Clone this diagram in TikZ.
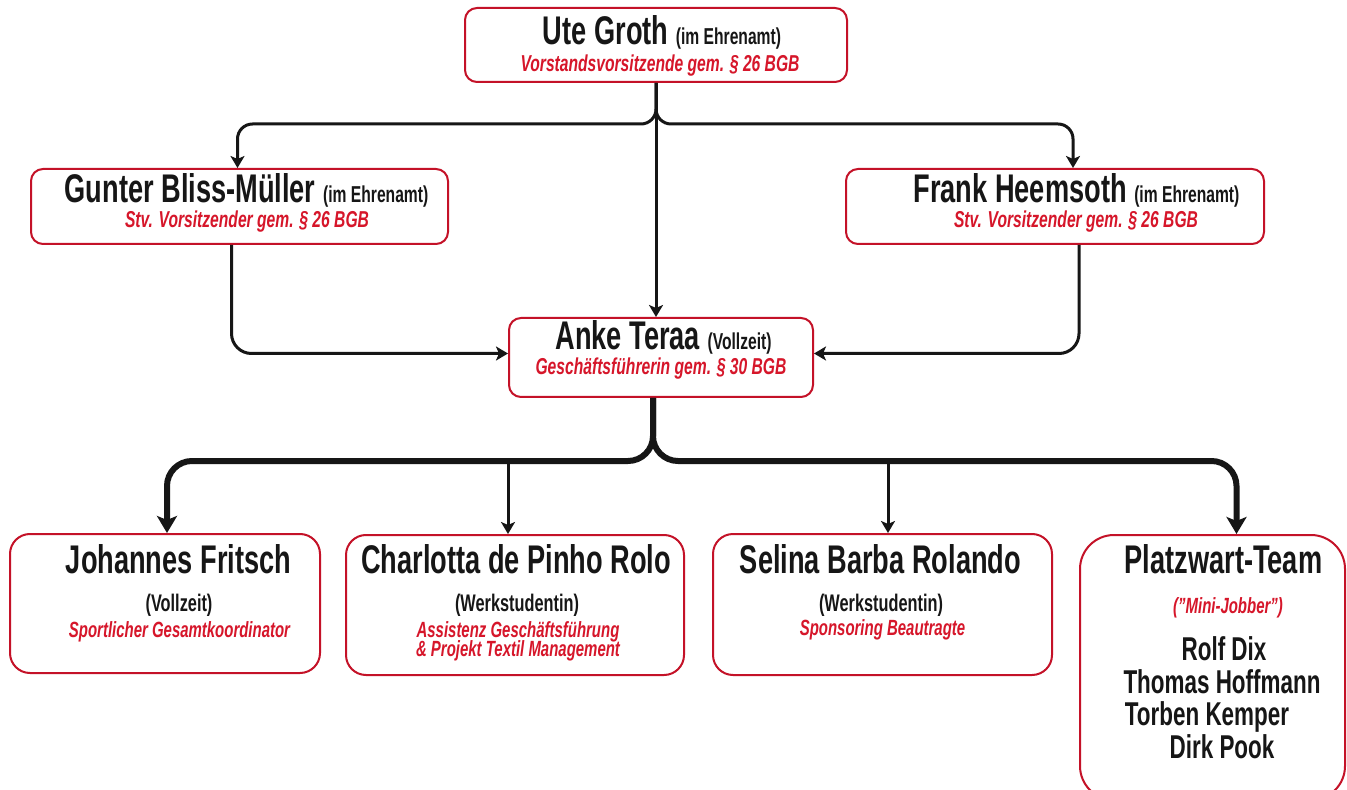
\documentclass[tikz,border=0pt]{standalone}
\usepackage{fontspec}
\setmainfont{Liberation Sans}[FakeStretch=0.68]
\usetikzlibrary{arrows.meta}

\definecolor{boxred}{RGB}{196,18,40}
\definecolor{rolered}{RGB}{214,22,42}
\definecolor{ink}{RGB}{22,22,22}

\newcommand{\aside}[1]{{\fontsize{11.5}{13}\selectfont #1}}

\tikzset{
  box/.style={draw=boxred, line width=1pt, rounded corners=6pt, fill=white, inner sep=0pt},
  bigbox/.style={box, rounded corners=10pt},
  person/.style={font=\fontsize{20}{22}\selectfont\bfseries, text=ink, anchor=base, inner sep=0pt},
  member/.style={font=\fontsize{16.5}{18}\selectfont\bfseries, text=ink, anchor=base, inner sep=0pt},
  status/.style={font=\fontsize{12}{14}\selectfont\bfseries, text=ink, anchor=base, inner sep=0pt},
  role/.style={font=\fontsize{11.5}{13}\selectfont\bfseries\itshape, text=rolered, anchor=base, inner sep=0pt},
  subrole/.style={role, font=\fontsize{11}{12}\selectfont\bfseries\itshape},
  conn/.style={draw=ink, line width=1.5pt, -{Stealth[length=6pt, width=7pt, inset=1.5pt]}},
  mainconn/.style={draw=ink, line width=3pt, -{Stealth[length=8.5pt, width=10pt, inset=2pt]}}
}

\begin{document}
\begin{tikzpicture}[x=0.5pt, y=-0.5pt]
  \useasboundingbox (0,0) rectangle (1347,790);
  \fill[white] (0,0) rectangle (1347,790);

  % Vorstand
  \node[box, minimum width=191pt, minimum height=37pt] (ute) at (656,45) {};
  \node[person] (ute-name) at (662,45) {Ute Groth \aside{(im Ehrenamt)}};
  \node[role] (ute-role) at (660,72) {Vorstandsvorsitzende gem. § 26 BGB};

  \node[box, minimum width=208.5pt, minimum height=37.5pt] (gunter) at (239.5,206.5) {};
  \node[person] (gunter-name) at (246.5,203) {Gunter Bliss-Müller \aside{(im Ehrenamt)}};
  \node[role] (gunter-role) at (247,228) {Stv. Vorsitzender gem. § 26 BGB};

  \node[box, minimum width=209pt, minimum height=37.5pt] (frank) at (1055,206.5) {};
  \node[person] (frank-name) at (1076.5,203) {Frank Heemsoth \aside{(im Ehrenamt)}};
  \node[role] (frank-role) at (1076,228) {Stv. Vorsitzender gem. § 26 BGB};

  % Geschaeftsfuehrung
  \node[box, minimum width=152pt, minimum height=39.5pt] (anke) at (661,357.5) {};
  \node[person] (anke-name) at (663.5,350) {Anke Teraa \aside{(Vollzeit)}};
  \node[role] (anke-role) at (661,375) {Geschäftsführerin gem. § 30 BGB};

  % Mitarbeiter
  \node[bigbox, minimum width=155pt, minimum height=69.5pt] (johannes) at (165,603.5) {};
  \node[person] (johannes-name) at (178.5,573) {Johannes Fritsch};
  \node[status] (johannes-status) at (179,611) {(Vollzeit)};
  \node[subrole] (johannes-role) at (179.5,637) {Sportlicher Gesamtkoordinator};

  \node[bigbox, minimum width=169pt, minimum height=70pt] (charlotta) at (515,605) {};
  \node[person] (charlotta-name) at (516,573) {Charlotta de Pinho Rolo};
  \node[status] (charlotta-status) at (517,611) {(Werkstudentin)};
  \node[subrole] (charlotta-role) at (518,637) {Assistenz Geschäftsführung};
  \node[subrole] (charlotta-role2) at (518,656) {\& Projekt Textil Management};

  \node[bigbox, minimum width=169.5pt, minimum height=70.5pt] (selina) at (882.5,604.5) {};
  \node[person] (selina-name) at (880.5,573) {Selina Barba Rolando};
  \node[status] (selina-status) at (881,611) {(Werkstudentin)};
  \node[subrole] (selina-role) at (882.5,635) {Sponsoring Beautragte};

  \node[box, rounded corners=17pt, minimum width=132.5pt, minimum height=132.5pt] (platz) at (1212.5,667.5) {};
  \node[person] (platz-name) at (1223.5,573) {Platzwart-Team};
  \node[subrole] (platz-role) at (1228,613) {("Mini-Jobber")};
  \node[member] (rolf) at (1224,660) {Rolf Dix};
  \node[member] (thomas) at (1222,693) {Thomas Hoffmann};
  \node[member] (torben) at (1207,725) {Torben Kemper};
  \node[member] (dirk) at (1222,758) {Dirk Pook};

  % Verbindungen Vorstand
  \coordinate (topbus) at (656,124);
  \draw[conn, rounded corners=7.5pt] (ute.south) -- (topbus) -| ([xshift=-1pt]gunter.north);
  \draw[conn, rounded corners=7.5pt] (ute.south) -- (topbus) -| ([xshift=9pt]frank.north);
  \draw[conn] (ute.south) -- (ute.south |- anke.north);
  \draw[conn, rounded corners=10pt] ([xshift=-4pt]gunter.south) |- ([yshift=2pt]anke.west);
  \draw[conn, rounded corners=10pt] ([xshift=12pt]frank.south) |- ([yshift=2pt]anke.east);

  % Verbindungen Mitarbeiter
  \coordinate (trunk) at ([xshift=-4pt]anke.south);
  \coordinate (botbus) at (653,461);
  \coordinate (charlotta-in) at ([xshift=-3.5pt]charlotta.north);
  \coordinate (selina-in) at ([xshift=2.75pt]selina.north);
  \draw[mainconn, rounded corners=12.5pt] (trunk) -- (botbus) -| ([xshift=1pt]johannes.north);
  \draw[mainconn, rounded corners=12.5pt] (trunk) -- (botbus) -| ([xshift=12pt]platz.north);
  \draw[conn] (charlotta-in |- botbus) -- (charlotta-in);
  \draw[conn] (selina-in |- botbus) -- (selina-in);
\end{tikzpicture}
\end{document}
